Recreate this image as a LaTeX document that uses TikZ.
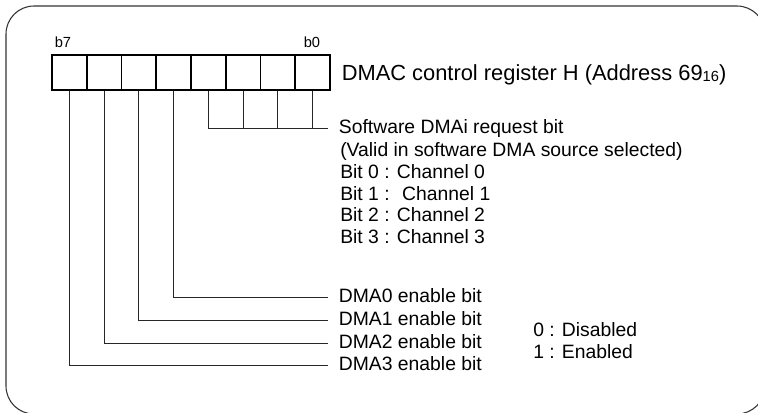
\documentclass[tikz,border=0pt]{standalone}
\usepackage{fontspec}
\setmainfont{Liberation Sans}
\usetikzlibrary{positioning}

\begin{document}
\begin{tikzpicture}[
    x=0.75pt, y=-0.75pt,
    regbit/.style={draw, line width=1.3pt, minimum width=26.06pt, minimum height=26.25pt, inner sep=0pt},
    bitlab/.style={font=\fontsize{11}{12}\selectfont, inner sep=0pt},
    desc/.style={anchor=west, inner xsep=8pt, inner ysep=0pt, text height=10.4pt, text depth=2.5pt, font=\fontsize{14.5}{16.3}\selectfont},
    note/.style={align=left, inner sep=0pt, font=\fontsize{14.5}{16.3}\selectfont},
    lead/.style={line width=0.75pt, draw=black!85},
]
\useasboundingbox (0,0) rectangle (758,412);
\clip (0,0) rectangle (758,412);

% Frame
\draw[line width=0.8pt, draw=black!80, rounded corners=21pt] (6,6) rectangle (765,414);

% Register H, b7 on the left
\foreach \n in {0,...,7}
  \node[regbit] (reg\n) at ({52+34.75*(7.5-\n)}, 72.5) {};
\node[bitlab] (lab7) at (63,42) {b7};
\node[bitlab] (lab0) at (312,42) {b0};
\node[desc, inner xsep=8pt, text height=11.8pt, text depth=0pt, font=\fontsize{16.4}{18}\selectfont] (title) at (reg0.east)
  {DMAC control register H (Address 69\raisebox{-0.8pt}{\fontsize{11}{12}\selectfont 16})};

% Software request bits
\node[desc] (swreq) at (328,128) {Software DMAi request bit};
\node[note, anchor=base west] (swnote) at (340,243.7) {(Valid in software DMA source selected)\\Bit 0 : Channel 0\\Bit 1 : \ Channel 1\\Bit 2 : Channel 2\\Bit 3 : Channel 3};
\draw[lead] (reg3.south) |- (swreq.west);
\foreach \n in {0,1,2}
  \draw[lead] (reg\n.south) -- (reg\n.south |- swreq.west);

% Enable bits
\foreach \n/\y in {0/297,1/320,2/343,3/365}
  \node[desc] (en\n) at (328,\y) {DMA\n{} enable bit};
\foreach \n in {0,...,3}{
  \pgfmathtruncatemacro\b{\n+4}
  \draw[lead] (reg\b.south) |- (en\n.west);
}
\node[note, anchor=base west] (state) at (533,358) {0 : Disabled\\1 : Enabled};

\end{tikzpicture}
\end{document}
